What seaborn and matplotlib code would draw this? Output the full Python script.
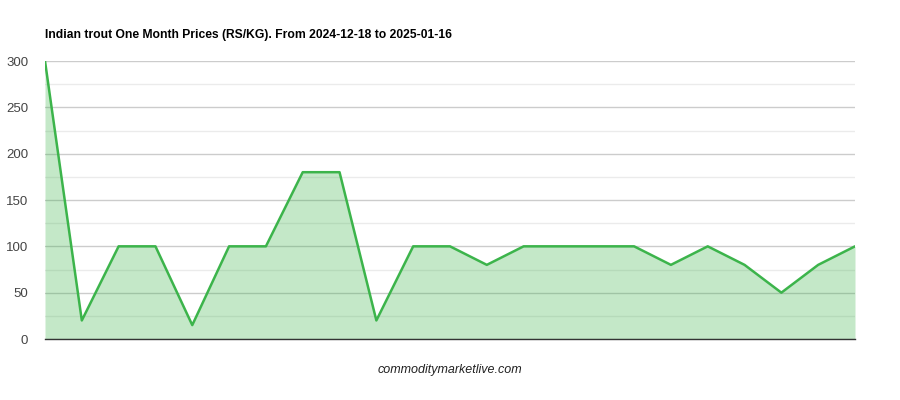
import matplotlib.pyplot as plt
import matplotlib as mpl
import seaborn as sns
import pandas as pd
import numpy as np

sns.set_style("white")
plt.rcParams['font.family'] = ['Liberation Sans', 'DejaVu Sans']
mpl.rcParams['axes.unicode_minus'] = False

title = "Indian trout One Month Prices (RS/KG). From 2024-12-18 to 2025-01-16"
source = "commoditymarketlive.com"

days = list(range(23))
prices = [300, 20, 100, 100, 15, 100, 100, 180, 180, 20, 100, 100,
          80, 100, 100, 100, 100, 80, 100, 80, 50, 80, 100]

df = pd.DataFrame({"day": days, "price": prices})

fig = plt.figure(figsize=(9, 4), dpi=100)
ax = fig.add_axes([45 / 900, 1 - 339 / 400, 810 / 900, 278 / 400])

# grid under a semi-transparent fill, like the original
ax.set_axisbelow(True)
ax.grid(axis="y", which="major", color="#cccccc", linewidth=1)
ax.grid(axis="y", which="minor", color="#ebebeb", linewidth=1)

ax.fill_between(df["day"], df["price"], 0, color="#3cb44b", alpha=0.3, zorder=1, linewidth=0)
sns.lineplot(data=df, x="day", y="price", ax=ax, color="#3cb44b", linewidth=1.8, zorder=3)

ax.set_xlim(0, len(days) - 1)
ax.set_ylim(0, 300)
ax.set_yticks(np.arange(0, 301, 50))
ax.set_yticks(np.arange(25, 300, 50), minor=True)
ax.set_xticks([])
for s in ["top", "right", "left"]:
    ax.spines[s].set_visible(False)
ax.spines["bottom"].set_color("#333333")
ax.spines["bottom"].set_linewidth(1)
ax.spines["bottom"].set_zorder(4)
ax.tick_params(axis="y", which="both", length=0, labelsize=9.5, labelcolor="#444444", pad=12)
ax.set_xlabel("")
ax.set_ylabel("")

fig.text(45 / 900, 1 - 35 / 400, title, fontsize=8.7, fontweight="bold", va="center", ha="left", color="#000000")
fig.text(450 / 900, 1 - 370 / 400, source, fontsize=9, style="italic", va="center", ha="center", color="#222222")

fig.savefig("out.png", dpi=100)
